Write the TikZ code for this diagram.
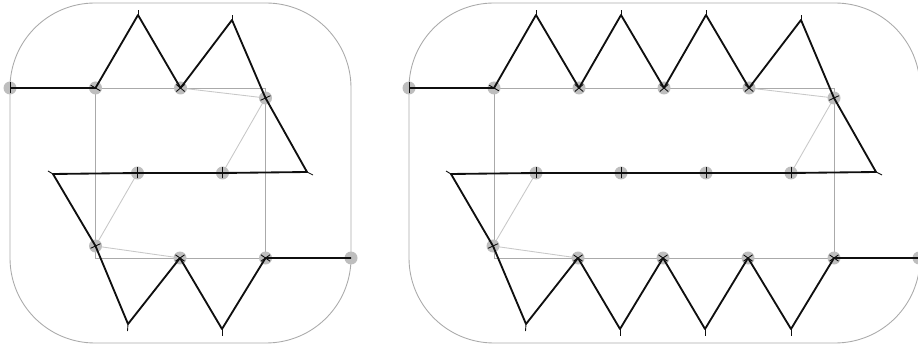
\documentclass[tikz,border=0pt]{standalone}
\usepackage{xcolor}
\definecolor{figframe}{RGB}{170,170,170}
\definecolor{figweb}{RGB}{200,200,200}
\definecolor{figdot}{RGB}{190,190,190}
\definecolor{figline}{RGB}{15,15,15}
\tikzset{
  frm/.style ={draw=figframe, line width=0.5pt},
  web/.style ={draw=figweb, line width=0.5pt},
  dot/.style ={fill=figdot, draw=none},
  zig/.style ={draw=figline, line width=1.05pt, line join=round},
  tk/.style  ={draw=figline, line width=0.5pt},
}
\begin{document}
\begin{tikzpicture}[x=0.02cm,y=-0.02cm]
  \useasboundingbox (0,0) rectangle (918,347);
  % left panel
  \draw[frm,rounded corners=1.7cm] (10,3) rectangle (351,343);
  \draw[frm] (95.5,88) rectangle (265.5,258);
  \coordinate (a0) at (10,88);
  \coordinate (a1) at (95.5,88);
  \coordinate (a2) at (180.5,88);
  \coordinate (a3) at (265.5,98);
  \coordinate (a4) at (222.5,173);
  \coordinate (a5) at (137.5,173);
  \coordinate (a6) at (95.5,246);
  \coordinate (a7) at (180,258);
  \coordinate (a8) at (265.5,258);
  \coordinate (a9) at (351,258);
  \coordinate (p1) at (138,15);
  \coordinate (p2) at (232,20);
  \coordinate (p3) at (307,172);
  \coordinate (p4) at (53,174);
  \coordinate (p5) at (128,324);
  \coordinate (p6) at (222,329);
  \draw[web] (a2) -- (a3) -- (a4) -- (a5) -- (a6) -- (a7);
  \foreach \n in {a0,a1,a2,a3,a4,a5,a6,a7,a8,a9}
    \fill[dot] (\n) circle (6.5);
  \draw[zig] (a0) -- (a1) -- (p1) -- (a2) -- (p2) -- (a3) -- (p3) -- (a4) -- (a5) -- (p4) -- (a6) -- (p5) -- (a7) -- (p6) -- (a8) -- (a9);
  \foreach \n/\a in {a0/90,a4/90,a5/90,a1/30,a3/-25,a6/-25,a7/-35,a7/35,a2/-40,a2/40,a8/-35,a8/35}
    \draw[tk] ([shift={(\a:5.5)}]\n) -- ([shift={(\a+180:5.5)}]\n);
  \draw[tk] (p1) -- ++(0,-5);
  \draw[tk] (p2) -- ++(0,-5);
  \draw[tk] (p3) -- ++(6,3);
  \draw[tk] (p4) -- ++(-5,-3);
  \draw[tk] (p5) -- ++(-0.5,7);
  \draw[tk] (p6) -- ++(0,7);
  % right panel
  \draw[frm,rounded corners=1.7cm] (409,3) rectangle (920,343);
  \draw[frm] (494,88) rectangle (834,258);
  \coordinate (b0) at (409,88);
  \coordinate (b1) at (494,88);
  \coordinate (b2) at (579,88);
  \coordinate (b3) at (664,88);
  \coordinate (b4) at (749,88);
  \coordinate (b5) at (834,98);
  \coordinate (b6) at (791,173);
  \coordinate (b7) at (706,173);
  \coordinate (b8) at (621,173);
  \coordinate (b9) at (536,173);
  \coordinate (b10) at (493,246);
  \coordinate (b11) at (578,258);
  \coordinate (b12) at (663,258);
  \coordinate (b13) at (748,258);
  \coordinate (b14) at (834,258);
  \coordinate (b15) at (919,258);
  \coordinate (q1) at (536,15);
  \coordinate (q2) at (621,15);
  \coordinate (q3) at (706,15);
  \coordinate (q4) at (801,20);
  \coordinate (q5) at (876,172);
  \coordinate (q6) at (451,174);
  \coordinate (q7) at (526,324);
  \coordinate (q8) at (620,329);
  \coordinate (q9) at (705,329);
  \coordinate (q10) at (791,329);
  \draw[web] (b4) -- (b5) -- (b6) -- (b7) -- (b8) -- (b9) -- (b10) -- (b11);
  \foreach \n in {b0,b1,b2,b3,b4,b5,b6,b7,b8,b9,b10,b11,b12,b13,b14,b15}
    \fill[dot] (\n) circle (6.5);
  \draw[zig] (b0) -- (b1) -- (q1) -- (b2) -- (q2) -- (b3) -- (q3) -- (b4) -- (q4) -- (b5) -- (q5) -- (b6) -- (b7) -- (b8) -- (b9) -- (q6) -- (b10) -- (q7) -- (b11) -- (q8) -- (b12) -- (q9) -- (b13) -- (q10) -- (b14) -- (b15);
  \foreach \n/\a in {b0/90,b6/90,b7/90,b8/90,b9/90,b1/30,b5/-25,b10/-25,b2/-40,b2/40,b3/-40,b3/40,b4/-40,b4/40,b11/-35,b11/35,b12/-35,b12/35,b13/-35,b13/35,b14/-35,b14/35}
    \draw[tk] ([shift={(\a:5.5)}]\n) -- ([shift={(\a+180:5.5)}]\n);
  \foreach \n in {q1,q2,q3,q4}
    \draw[tk] (\n) -- ++(0,-5);
  \draw[tk] (q5) -- ++(6,3);
  \draw[tk] (q6) -- ++(-5,-3);
  \draw[tk] (q7) -- ++(-0.5,7);
  \foreach \n in {q8,q9,q10}
    \draw[tk] (\n) -- ++(0,7);
\end{tikzpicture}
\end{document}
